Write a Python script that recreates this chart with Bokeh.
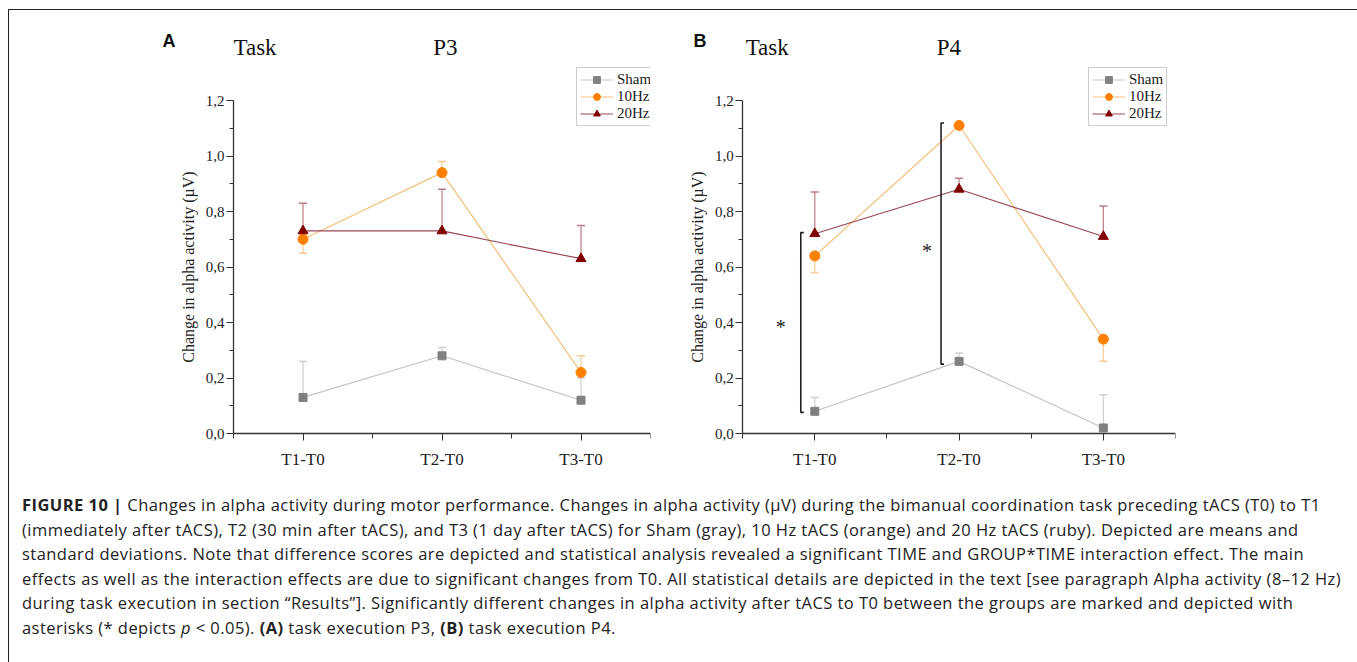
from bokeh.plotting import figure
from bokeh.models import (Range1d, FixedTicker, CustomJSTickFormatter, Legend, LegendItem,
                          Label, Div)
from bokeh.layouts import row, column
from bokeh.embed import file_html
from bokeh.resources import INLINE

# ---------------- data ----------------
categories = ["T1-T0", "T2-T0", "T3-T0"]
xpos = [1, 2, 3]

# Panel A (P3)
sham_a = [0.13, 0.28, 0.12]
sham_a_err = [0.26, 0.31, 0.20]
hz10_a = [0.70, 0.94, 0.22]
hz10_a_err = [0.65, 0.98, 0.28]
hz20_a = [0.73, 0.73, 0.63]
hz20_a_err = [0.83, 0.88, 0.75]

# Panel B (P4)
sham_b = [0.08, 0.26, 0.02]
sham_b_err = [0.13, 0.29, 0.14]
hz10_b = [0.64, 1.11, 0.34]
hz10_b_err = [0.58, 1.10, 0.26]
hz20_b = [0.72, 0.88, 0.71]
hz20_b_err = [0.87, 0.92, 0.82]

# significance brackets in panel B: (x, bottom, top)
brackets_b = [(0.903, 0.076, 0.724), (1.875, 0.25, 1.119)]
stars_b = [(0.764, 0.382), (1.778, 0.657)]

y_ticks = [0.0, 0.2, 0.4, 0.6, 0.8, 1.0, 1.2]
y_minor = [0.1, 0.3, 0.5, 0.7, 0.9, 1.1]

SERIF = "Liberation Serif"
AX = "#333333"

series_style = {
    "Sham": dict(line="#c4c4c4", err="#cfcfcf", marker="square", mcolor="#808080", size=8),
    "10Hz": dict(line="#f3c07c", err="#f6cc96", marker="circle", mcolor="#ff8000", size=10),
    "20Hz": dict(line="#9a4656", err="#bb7c88", marker="triangle", mcolor="#800000", size=10),
}

PXY = 333 / 1.2  # pixels per unit on y


def make_panel(series, letter, chan, x_start, width, right_border, legend_x,
               letter_x, task_x, chan_x, brackets=None, stars=None):
    ytop = 1.2 + 80 / PXY
    ybot = -52 / PXY
    p = figure(width=width, height=475, output_backend="svg", toolbar_location=None,
               x_range=Range1d(x_start, 3.5), y_range=Range1d(ybot, ytop),
               min_border_left=0, min_border_right=right_border,
               min_border_top=10, min_border_bottom=0)
    p.outline_line_color = None
    p.xgrid.visible = False
    p.ygrid.visible = False
    p.background_fill_color = "white"
    p.border_fill_color = "white"

    # axes
    xa = p.xaxis[0]
    xa.fixed_location = 0
    xa.ticker = FixedTicker(ticks=xpos, minor_ticks=[0.5, 1.5, 2.5, 3.5])
    xa.major_label_overrides = {x: c for x, c in zip(xpos, categories)}
    xa.bounds = (0.5, 3.5)
    ya = p.yaxis[0]
    ya.fixed_location = 0.5
    ya.ticker = FixedTicker(ticks=y_ticks, minor_ticks=y_minor)
    ya.formatter = CustomJSTickFormatter(code="return tick.toFixed(1).replace('.', ',');")
    ya.bounds = (0, 1.2)
    ya.axis_label = "Change in alpha activity (\u00b5V)"
    ya.axis_label_text_font = SERIF
    ya.axis_label_text_font_style = "normal"
    ya.axis_label_text_font_size = "16px"
    ya.axis_label_standoff = 6
    ya.axis_label_text_color = "#222222"
    for ax in (xa, ya):
        ax.axis_line_color = AX
        ax.axis_line_width = 1.3
        ax.major_tick_line_color = AX
        ax.minor_tick_line_color = AX
        ax.major_tick_in = 0
        ax.minor_tick_in = 0
        ax.major_tick_out = 7
        ax.minor_tick_out = 5
        ax.major_label_text_font = SERIF
        ax.major_label_text_color = "#222222"
    xa.major_label_text_font_size = "17px"
    xa.major_label_standoff = 9
    ya.major_label_text_font_size = "15px"
    ya.major_label_standoff = 2
    ya.minor_tick_out = 4

    items = []
    for name, (vals, errs) in series.items():
        st = series_style[name]
        # error bars (one-sided standard deviations)
        p.segment(x0=xpos, y0=vals, x1=xpos, y1=errs, line_color=st["err"], line_width=1.2)
        p.dash(x=xpos, y=errs, size=8, line_color=st["err"], line_width=1.5)
    for name, (vals, errs) in series.items():
        st = series_style[name]
        lr = p.line(x=xpos, y=vals, line_color=st["line"], line_width=1.2)
        mr = p.scatter(x=xpos, y=vals, marker=st["marker"], size=st["size"],
                       fill_color=st["mcolor"], line_color=st["mcolor"])
        items.append(LegendItem(label=name, renderers=[lr, mr]))

    if brackets:
        d = 3 / 144
        for (bx, b0, b1) in brackets:
            p.line(x=[bx + d, bx, bx, bx + d], y=[b1, b1, b0, b0], line_color="#222222",
                   line_width=1.6)
    if stars:
        for (sx, sy) in stars:
            p.add_layout(Label(x=sx, y=sy, text="*", text_font=SERIF, text_font_size="20px",
                               text_align="center", text_baseline="middle",
                               text_color="#222222"))

    leg = Legend(items=items, location=(legend_x, 307 + 52), label_text_font=SERIF,
                 label_text_font_size="15px", label_text_color="#222222",
                 glyph_width=33, glyph_height=17, label_height=17, label_standoff=4,
                 spacing=0, padding=3, margin=0, border_line_color="#9a9a9a",
                 border_line_width=1, background_fill_alpha=1)
    p.add_layout(leg, "center")

    p.add_layout(Label(x=letter_x, y=1.416, text=letter, text_font="Liberation Sans",
                       text_font_style="bold", text_font_size="18px", text_align="left",
                       text_baseline="middle", text_color="#111111"))
    p.add_layout(Label(x=task_x, y=1.391, text="Task", text_font=SERIF,
                       text_font_size="23px", text_align="left", text_baseline="middle",
                       text_color="#111111"))
    p.add_layout(Label(x=chan_x, y=1.391, text=chan, text_font=SERIF,
                       text_font_size="23px", text_align="center", text_baseline="middle",
                       text_color="#111111"))
    return p


pa = make_panel({"Sham": (sham_a, sham_a_err), "10Hz": (hz10_a, hz10_a_err),
                 "20Hz": (hz20_a, hz20_a_err)},
                "A", "P3", 0.5 - (233 - 9) / 139, 660, 19, 567, -0.011, 0.5, 2.025)
pb = make_panel({"Sham": (sham_b, sham_b_err), "10Hz": (hz10_b, hz10_b_err),
                 "20Hz": (hz20_b, hz20_b_err)},
                "B", "P4", 0.5 - (742 - 669) / 144, 686, 180, 419, 0.16, 0.521, 1.93,
                brackets=brackets_b, stars=stars_b)

caption_lines = [
    "<b>FIGURE 10 |</b> Changes in alpha activity during motor performance. Changes in alpha activity (\u00b5V) during the bimanual coordination task preceding tACS (T0) to T1",
    "(immediately after tACS), T2 (30 min after tACS), and T3 (1 day after tACS) for Sham (gray), 10 Hz tACS (orange) and 20 Hz tACS (ruby). Depicted are means and",
    "standard deviations. Note that difference scores are depicted and statistical analysis revealed a significant TIME and GROUP*TIME interaction effect. The main",
    "effects as well as the interaction effects are due to significant changes from T0. All statistical details are depicted in the text [see paragraph Alpha activity (8\u201312 Hz)",
    "during task execution in section \u201cResults\u201d]. Significantly different changes in alpha activity after tACS to T0 between the groups are marked and depicted with",
    "asterisks (* depicts <i>p</i> &lt; 0.05). <b>(A)</b> task execution P3, <b>(B)</b> task execution P4.",
]
html = ("<div style=\"font-family:'Open Sans',sans-serif;font-size:16.5px;letter-spacing:0.45px;"
        "line-height:24.6px;color:#222;white-space:nowrap;padding:3px 0 0 8px;\">"
        + "<br>".join(caption_lines) + "</div>")
cap = Div(text=html, width=1346, height=180)

layout = column(row(pa, pb), cap,
                styles={"border-left": "1px solid #222", "border-top": "1px solid #222",
                        "border-right": "1px solid #222", "margin-left": "8px",
                        "margin-top": "9px"})

open("out.html", "w").write(file_html(layout, INLINE))
